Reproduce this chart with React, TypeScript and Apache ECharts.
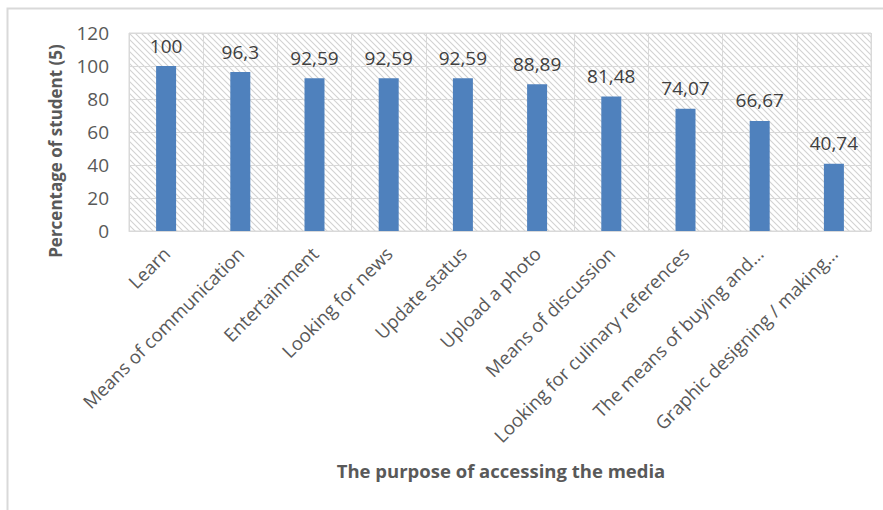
import React, { useEffect, useRef } from "react";
import * as echarts from "echarts";

const categories: string[] = [
  "Learn",
  "Means of communication",
  "Entertainment",
  "Looking for news",
  "Update status",
  "Upload a photo",
  "Means of discussion",
  "Looking for culinary references",
  "The means of buying and…",
  "Graphic designing / making…",
];

const values: number[] = [100, 96.3, 92.59, 92.59, 92.59, 88.89, 81.48, 74.07, 66.67, 40.74];

const yAxisTitle = "Percentage of student (5)";
const xAxisTitle = "The purpose of accessing the media";

const FONT = "'Open Sans', 'Noto Sans', sans-serif";

function makeHatch() {
  const s = 6;
  const c = document.createElement("canvas");
  c.width = s;
  c.height = s;
  const ctx = c.getContext("2d")!;
  ctx.fillStyle = "#ffffff";
  ctx.fillRect(0, 0, s, s);
  ctx.strokeStyle = "#d2d2d2";
  ctx.lineWidth = 1.1;
  for (const k of [-s, 0, s]) {
    ctx.beginPath();
    ctx.moveTo(k - 1, -1);
    ctx.lineTo(k + s + 1, s + 1);
    ctx.stroke();
  }
  return { image: c.toDataURL(), repeat: "repeat", imageWidth: s, imageHeight: s };
}

export default function App() {
  const ref = useRef<HTMLDivElement>(null);
  useEffect(() => {
    if (!ref.current) return;
    const chart = echarts.init(ref.current, null, { renderer: "svg" });
    const hatch = makeHatch();
    chart.setOption({
      animation: false,
      backgroundColor: "#ffffff",
      grid: {
        show: true,
        left: 129,
        top: 33,
        right: 12,
        bottom: 279,
        containLabel: false,
        backgroundColor: hatch as any,
        borderColor: "#d9d9d9",
        borderWidth: 1,
      },
      xAxis: {
        type: "category",
        data: categories,
        axisTick: { show: false },
        axisLine: { show: true, lineStyle: { color: "#d9d9d9", width: 1 } },
        splitLine: { show: true, lineStyle: { color: "#d9d9d9", width: 1 } },
        axisLabel: {
          interval: 0,
          rotate: 45,
          margin: 19,
          color: "#595959",
          fontSize: 18.5,
          fontFamily: FONT,
        },
      },
      yAxis: {
        type: "value",
        min: 0,
        max: 120,
        interval: 20,
        axisLine: { show: false },
        axisTick: { show: false },
        splitLine: { show: true, lineStyle: { color: "#d9d9d9", width: 1 } },
        axisLabel: {
          margin: 20,
          color: "#595959",
          fontSize: 19,
          fontFamily: FONT,
        },
      },
      series: [
        {
          type: "bar",
          data: values,
          barWidth: 20,
          itemStyle: { color: "#4f81bd" },
          label: {
            show: true,
            position: "top",
            distance: 11,
            color: "#404040",
            fontSize: 19,
            fontFamily: FONT,
            formatter: (p: any) => String(p.value).replace(".", ","),
          },
        },
      ],
      graphic: [
        {
          type: "rect",
          z: -10,
          silent: true,
          shape: { x: 7.5, y: 8.5, width: 1000, height: 1000 },
          style: { fill: "none", stroke: "#d9d9d9", lineWidth: 2 },
        },
        {
          type: "text",
          x: 55,
          y: 151,
          rotation: Math.PI / 2,
          style: {
            text: yAxisTitle,
            fill: "#595959",
            font: `bold 17px ${FONT}`,
            align: "center",
            verticalAlign: "middle",
          },
        },
        {
          type: "text",
          x: 501,
          y: 470,
          style: {
            text: xAxisTitle,
            fill: "#595959",
            font: `bold 18.5px ${FONT}`,
            align: "center",
            verticalAlign: "middle",
          },
        },
      ],
    });
    return () => chart.dispose();
  }, []);
  return (
    <div
      ref={ref}
      style={{ position: "absolute", left: 0, top: 0, width: 883, height: 510 }}
    />
  );
}
